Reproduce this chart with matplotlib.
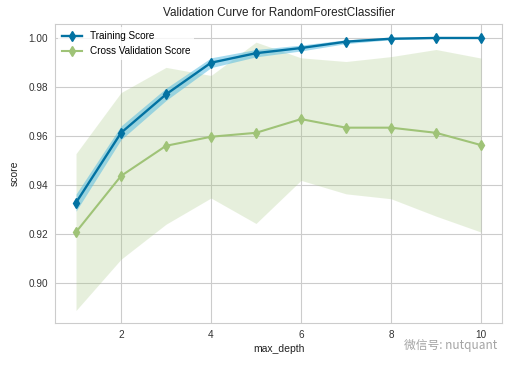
import matplotlib
matplotlib.use("Agg")
import matplotlib.pyplot as plt
import numpy as np

max_depth = [1, 2, 3, 4, 5, 6, 7, 8, 9, 10]
train_mean = [0.9328, 0.9613, 0.9770, 0.9899, 0.9938, 0.9959, 0.9985, 0.9997, 1.0000, 1.0000]
train_std = [0.0035, 0.0028, 0.0025, 0.0020, 0.0015, 0.0012, 0.0008, 0.0004, 0.0001, 0.0000]
cv_mean = [0.9208, 0.9437, 0.9560, 0.9597, 0.9613, 0.9669, 0.9634, 0.9634, 0.9613, 0.9563]
cv_std = [0.0320, 0.0340, 0.0320, 0.0250, 0.0370, 0.0250, 0.0270, 0.0290, 0.0340, 0.0355]

train_color = "#0272a2"
train_fill = "#5bbde0"
cv_color = "#9fc377"

plt.rcParams['font.family'] = ['Liberation Sans', 'DejaVu Sans']

fig = plt.figure(figsize=(5.14, 3.66), dpi=100)
ax = fig.add_axes([0.107, 0.1175, 0.8697, 0.8169])

x = np.array(max_depth)
tm, ts = np.array(train_mean), np.array(train_std)
cm, cs = np.array(cv_mean), np.array(cv_std)

ax.fill_between(x, cm - cs, cm + cs, color=cv_color, alpha=0.25, lw=0)
ax.fill_between(x, tm - ts, tm + ts, color=train_fill, alpha=0.55, lw=0)
ax.plot(x, tm, 'd-', color=train_color, lw=1.7, ms=5, label="Training Score")
ax.plot(x, cm, 'd-', color=cv_color, lw=1.5, ms=5, label="Cross Validation Score")

ax.set_xlim(0.533, 10.467)
ax.set_ylim(0.8837, 1.0057)
ax.set_xticks([2, 4, 6, 8, 10])
ax.set_yticks([0.90, 0.92, 0.94, 0.96, 0.98, 1.00])
ax.set_yticklabels(["0.90", "0.92", "0.94", "0.96", "0.98", "1.00"])
ax.grid(True, color="#cccccc", lw=0.8)
ax.set_axisbelow(True)
for s in ax.spines.values():
    s.set_color("#cccccc")
    s.set_linewidth(0.8)
ax.tick_params(length=0, labelsize=7.2, colors="#333333", pad=5)

ax.set_title("Validation Curve for RandomForestClassifier", fontsize=8.5, color="#222222", pad=6)
ax.set_xlabel("max_depth", fontsize=7.5, color="#222222", labelpad=3)
ax.set_ylabel("score", fontsize=7.5, color="#222222", labelpad=6)

leg = ax.legend(loc="upper left", fontsize=7.2, frameon=True, framealpha=0.8,
                edgecolor="none", facecolor="white", borderaxespad=0.3)

fig.text(0.967, 0.057, "微信号: nutquant", fontsize=8.5, color="#9a9a9a", ha="right", va="center",
         family=['Noto Sans CJK SC', 'DejaVu Sans'], alpha=0.9)

fig.savefig("out.png", dpi=100, facecolor="white")
